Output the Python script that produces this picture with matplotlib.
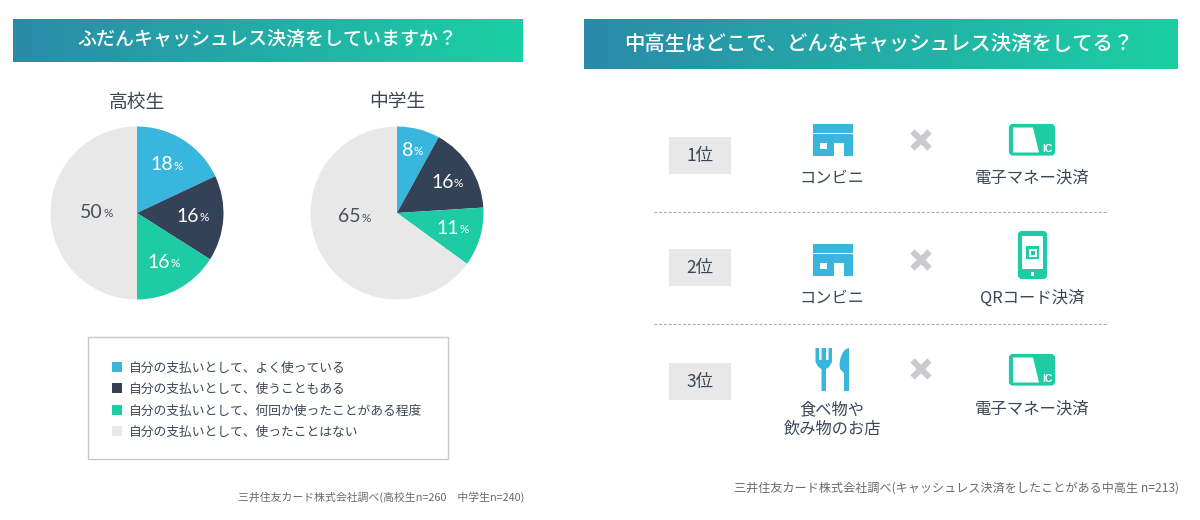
import matplotlib
matplotlib.use("Agg")
import matplotlib.pyplot as plt
import numpy as np
from matplotlib.colors import LinearSegmentedColormap
from matplotlib.patches import FancyBboxPatch, Polygon, Rectangle

plt.rcParams["font.family"] = ["Noto Sans CJK JP", "DejaVu Sans"]

W, H = 1200, 520

# data
pie_titles = ["高校生", "中学生"]
high_school = [18, 16, 16, 50]
junior_high = [8, 16, 11, 65]
answers = [
    "自分の支払いとして、よく使っている",
    "自分の支払いとして、使うこともある",
    "自分の支払いとして、何回か使ったことがある程度",
    "自分の支払いとして、使ったことはない",
]
ranks = ["1位", "2位", "3位"]
places = ["コンビニ", "コンビニ", "食べ物や\n飲み物のお店"]
methods = ["電子マネー決済", "QRコード決済", "電子マネー決済"]

BLUE, NAVY, GREEN, GRAY = "#38b6de", "#344257", "#1dcba4", "#e8e8e8"
slice_colors = [BLUE, NAVY, GREEN, GRAY]
TEXT = "#3c4656"
MARK = "#c9cbce"

fig = plt.figure(figsize=(W / 100, H / 100), dpi=100, facecolor="white")
ax = fig.add_axes([0, 0, 1, 1])
ax.set_zorder(5)  # keep labels above the pie axes
ax.patch.set_alpha(0)
ax.set_xlim(0, W)
ax.set_ylim(H, 0)
ax.axis("off")

grad = LinearSegmentedColormap.from_list("banner", ["#2b8aa9", "#1bd0a4"])


def banner(x0, x1, y0, y1, title, size, text_x, text_y):
    ax.imshow(np.linspace(0, 1, 256).reshape(1, -1), cmap=grad, aspect="auto",
              extent=(x0, x1, y1, y0), zorder=1)
    ax.text(text_x, text_y, title, color="white", fontsize=size,
            ha="center", va="center", fontweight="medium", zorder=2)


banner(13, 523, 19, 62, "ふだんキャッシュレス決済をしていますか？", 13.7, 267.5, 39.5)
banner(584, 1178, 19, 69, "中高生はどこで、どんなキャッシュレス決済をしてる？", 14.7, 879, 43.5)
ax.set_xlim(0, W)
ax.set_ylim(H, 0)


def pie(cx, cy, r, values):
    pax = fig.add_axes([(cx - r) / W, 1 - (cy + r) / H, 2 * r / W, 2 * r / H])
    pax.pie(values, colors=slice_colors, startangle=90, counterclock=False, radius=1)
    pax.set_xlim(-1, 1)
    pax.set_ylim(-1, 1)


pie(137, 213, 86.5, high_school)
pie(397, 213, 86.5, junior_high)
ax.text(137, 102, pie_titles[0], fontsize=13.5, color=TEXT, ha="center", va="center")
ax.text(397, 102, pie_titles[1], fontsize=13.5, color=TEXT, ha="center", va="center")

# number's right edge and centre line for each slice label
label_pos = [
    [(173, 165), (198.5, 216), (170, 262), (103, 212)],
    [(413.5, 150), (453.5, 182), (458.5, 228), (360.5, 217)],
]
for values, spots in zip([high_school, junior_high], label_pos):
    for i, (v, (x, y)) in enumerate(zip(values, spots)):
        col = "white" if i < 3 else "#4a4f58"
        ax.text(x, y, str(v), family=["Lato", "DejaVu Sans"], fontsize=14, fontweight="normal",
                color=col, ha="right", va="center", zorder=5)
        ax.text(x + 0.5, y + 1.5, "%", family=["Lato", "DejaVu Sans"], fontsize=8.5, color=col,
                ha="left", va="center", zorder=5)

# legend box
ax.add_patch(Rectangle((88, 337), 360, 122, fc="white", ec="#c9c9c9", lw=1.0))
for label, col, y in zip(answers, slice_colors, [367, 388, 410, 431]):
    ax.add_patch(Rectangle((112, y - 5), 10, 10, fc=col, ec="none"))
    ax.text(129, y + 1, label, fontsize=9.2, color=TEXT, ha="left", va="center")

ax.text(524, 497.5, "三井住友カード株式会社調べ(高校生n=260　中学生n=240)", fontsize=7.8,
        color="#6a6a6a", ha="right", va="center")
ax.text(1179, 488.5, "三井住友カード株式会社調べ(キャッシュレス決済をしたことがある中高生 n=213)",
        fontsize=8.7, color="#6a6a6a", ha="right", va="center")


def store(y):
    ax.add_patch(Rectangle((813, y), 40, 8.5, fc=BLUE, ec="none"))
    ax.add_patch(Rectangle((813, y + 10), 40, 21.5, fc=BLUE, ec="none"))
    ax.add_patch(Rectangle((820, y + 18.5), 7, 6, fc="white", ec="none"))
    ax.add_patch(Rectangle((834, y + 18.5), 10, 13, fc="white", ec="none"))


def ic_card(y):
    ax.add_patch(FancyBboxPatch((1011, y + 2), 42, 27.5, boxstyle="round,pad=0,rounding_size=2",
                                fc=GREEN, ec=GREEN, lw=3))
    ax.add_patch(Polygon([(1013, y + 3.5), (1033, y + 3.5), (1039, y + 28.5), (1013, y + 28.5)],
                         fc="white", ec="none"))
    ax.text(1047, y + 24.5, "IC", color="white", fontsize=7.5, fontweight="bold",
            ha="center", va="center", family=["Liberation Sans"])


def phone():
    ax.add_patch(FancyBboxPatch((1020, 233), 25, 44, boxstyle="round,pad=0,rounding_size=2",
                                fc=GREEN, ec=GREEN, lw=3))
    ax.add_patch(Rectangle((1022, 236), 21, 33, fc="white", ec="none"))
    ax.add_patch(Rectangle((1026, 246), 13, 13, fc=GREEN, ec="none"))
    ax.add_patch(Rectangle((1028.5, 248.5), 8, 8, fc="white", ec="none"))
    ax.add_patch(Rectangle((1030.5, 250.5), 4, 4, fc=GREEN, ec="none"))
    ax.add_patch(Rectangle((1030.5, 272), 3.5, 3.5, fc="white", ec="none"))


def cutlery():
    # fork
    ax.add_patch(Polygon([(815.5, 348), (819, 348), (819, 360), (821.5, 360), (821.5, 348),
                          (826, 348), (826, 360), (828.5, 360), (828.5, 348), (832, 348),
                          (832, 362), (829, 367), (826, 369), (826, 391), (821.5, 391),
                          (821.5, 369), (818.5, 367), (815.5, 362)], fc=BLUE, ec="none"))
    # knife
    ax.add_patch(Polygon([(849, 348), (849, 391), (844, 391), (844, 373), (840, 369), (839.5, 364),
                          (840.5, 358), (843, 352), (846, 349)], fc=BLUE, ec="none"))


def cross(x, y):
    ax.plot([x - 8.5, x + 8.5], [y - 8.5, y + 8.5], color=MARK, lw=4.4, solid_capstyle="butt")
    ax.plot([x - 8.5, x + 8.5], [y + 8.5, y - 8.5], color=MARK, lw=4.4, solid_capstyle="butt")


# ranking rows
box_tops = [137, 249, 363]
cross_ys = [140, 260, 369]
place_ys = [178, 298, 419.5]
method_ys = [178, 298, 409]
for i, rank in enumerate(ranks):
    top = box_tops[i]
    ax.add_patch(Rectangle((669, top), 62, 37, fc=GRAY, ec="none"))
    ax.text(700, top + 19.5, rank, fontsize=12.5, color=TEXT, ha="center", va="center")
    cross(921, cross_ys[i])
    ax.text(832, place_ys[i], places[i], fontsize=11.7, color=TEXT, ha="center", va="center",
            linespacing=1.25)
    ax.text(1032, method_ys[i], methods[i], fontsize=11.8, color=TEXT, ha="center", va="center")

store(124)
store(244)
cutlery()
ic_card(124)
phone()
ic_card(354)

for y in [212, 324]:
    ax.plot([654, 1107], [y, y], color="#aaaaaa", lw=0.8, ls=(0, (2.5, 1.8)))

fig.savefig("out.png", dpi=100)
plt.close(fig)
